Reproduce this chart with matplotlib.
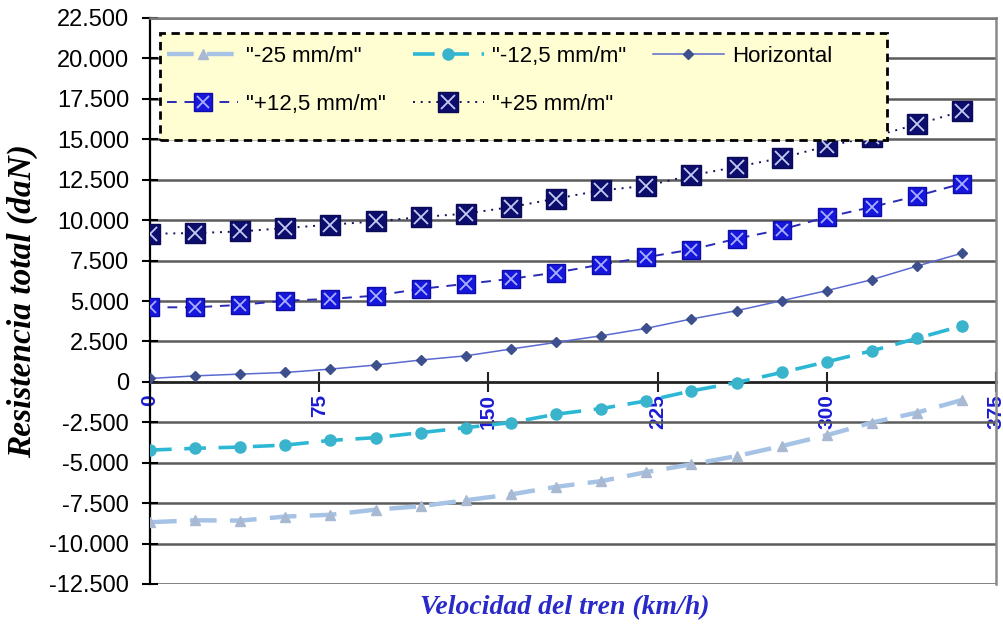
import matplotlib
matplotlib.use("Agg")
import matplotlib.pyplot as plt
from matplotlib.ticker import FuncFormatter, MultipleLocator
from matplotlib.legend_handler import HandlerTuple
from matplotlib.patches import Rectangle

# Train speed (km/h)
velocidad = list(range(0, 361, 20))

# Total resistance (daN) for each gradient
res_menos25 = [-8680, -8560, -8580, -8330, -8220, -7900, -7690, -7320, -6960, -6490,
               -6140, -5580, -5100, -4590, -3970, -3300, -2520, -1900, -1120]
res_menos12_5 = [-4220, -4110, -4030, -3910, -3620, -3450, -3140, -2830, -2520, -2000,
                 -1650, -1180, -560, -40, 580, 1240, 1920, 2690, 3470]
res_horizontal = [210, 370, 480, 580, 790, 1040, 1350, 1610, 2030, 2440,
                  2850, 3310, 3890, 4400, 5020, 5640, 6320, 7160, 7960]
res_mas12_5 = [4610, 4610, 4760, 5020, 5130, 5330, 5750, 6060, 6370, 6760,
               7250, 7710, 8180, 8850, 9420, 10190, 10810, 11500, 12260]
res_mas25 = [9160, 9200, 9300, 9510, 9720, 9920, 10190, 10400, 10810, 11330,
             11840, 12120, 12770, 13290, 13850, 14570, 15150, 15920, 16740]

etiquetas = ['"-25 mm/m"', '"-12,5 mm/m"', 'Horizontal', '"+12,5 mm/m"', '"+25 mm/m"']

plt.rcParams['font.family'] = ['Liberation Sans', 'DejaVu Sans']
serif = ['Liberation Serif', 'DejaVu Serif']

W, H = 1004, 625
fig = plt.figure(figsize=(W / 100, H / 100), dpi=100)
ax = fig.add_axes([150 / W, 1 - 584 / H, 846 / W, 566 / H])

ax.set_xlim(0, 375)
ax.set_ylim(-12500, 22500)

# Series
h1, = ax.plot(velocidad, res_menos25, color='#a6c3e6', lw=3.2, ls=(0, (6, 3)),
              marker='^', ms=6.5, mfc='#a9b9d2', mec='#a9b9d2', zorder=3)
h2, = ax.plot(velocidad, res_menos12_5, color='#2cb8d4', lw=2.6, ls=(0, (6, 3.5)),
              marker='o', ms=8, mfc='#3ab4cc', mec='#3ab4cc', zorder=3)
h3, = ax.plot(velocidad, res_horizontal, color='#5a6ad0', lw=1.1, ls='-',
              marker='D', ms=5.5, mfc='#3e4f8e', mec='#3e4f8e', zorder=3)
h4, = ax.plot(velocidad, res_mas12_5, color='#2a2ab4', lw=1.4, ls=(0, (5, 4)),
              marker='s', ms=13.5, mfc='#1616dc', mec='#0c0ca8', zorder=3)
h4x, = ax.plot(velocidad, res_mas12_5, ls='none', marker='x', ms=9, mew=1.3,
               color='#a8b0ff', zorder=4)
h5, = ax.plot(velocidad, res_mas25, color='#12125c', lw=1.4, ls=(0, (1, 3)),
              marker='s', ms=15, mfc='#0d0d6e', mec='#0a0a55', zorder=3)
h5x, = ax.plot(velocidad, res_mas25, ls='none', marker='x', ms=10, mew=1.3,
               color='#c4cbf2', zorder=4)

# Grid and frame
ax.yaxis.set_major_locator(MultipleLocator(2500))
ax.xaxis.set_major_locator(MultipleLocator(75))
ax.yaxis.grid(True, color='#5c5c5c', lw=1.8, zorder=1)
ax.set_axisbelow(True)
ax.spines['top'].set_color('#7a7a7a')
ax.spines['top'].set_linewidth(1.8)
ax.spines['right'].set_color('#8a8a8a')
ax.spines['right'].set_linewidth(1.8)
ax.spines['left'].set_color('black')
ax.spines['left'].set_linewidth(1.6)
ax.spines['bottom'].set_position(('data', 0))
ax.spines['bottom'].set_color('#222222')
ax.spines['bottom'].set_linewidth(1.8)
ax.spines['bottom'].set_zorder(2)

ax.yaxis.set_major_formatter(FuncFormatter(lambda v, p: f"{v:,.0f}".replace(',', '.')))
ax.tick_params(axis='y', direction='inout', length=12, width=1.5, colors='black',
               labelsize=17, pad=9)
ax.tick_params(axis='x', direction='inout', length=14, width=1.5, color='#222222',
               labelsize=15, labelcolor='#1c1cd4', pad=2)
for lbl in ax.get_xticklabels():
    lbl.set_rotation(90)
    lbl.set_fontweight('bold')

ax.set_ylabel('Resistencia total (daN)', family=serif,
              fontweight='bold', fontstyle='italic', fontsize=24)
ax.yaxis.set_label_coords(-0.132, 0.5)
ax.set_xlabel('Velocidad del tren (km/h)', family=serif,
              fontweight='bold', fontstyle='italic', fontsize=20, color='#2a2ac8')
ax.xaxis.set_label_coords(0.49, -0.02)

# Legend box (dashed yellow panel) drawn as its own patch
box = Rectangle((10 / 846, 1 - 122 / 566), 727 / 846, 107 / 566,
                transform=ax.transAxes, facecolor='#fffdd2', edgecolor='black',
                lw=2, ls=(0, (3, 2)), zorder=9, clip_on=False)
ax.add_patch(box)

# Legend entries (column-major order gives two rows of three / two entries)
handles = [h1, (h4, h4x), h2, (h5, h5x), h3]
labels = [etiquetas[0], etiquetas[3], etiquetas[1], etiquetas[4], etiquetas[2]]
leg = ax.legend(handles, labels, ncol=3, loc='upper left',
                bbox_to_anchor=(17 / 846, 1 - 28 / 566, 665 / 846, 0),
                mode='expand', fontsize=16, handlelength=3.2, handletextpad=0.35,
                labelspacing=1.22, borderpad=0, borderaxespad=0,
                columnspacing=1.0, frameon=False,
                handler_map={tuple: HandlerTuple(ndivide=1)})
leg.set_zorder(10)

fig.savefig('out.png', dpi=100)
